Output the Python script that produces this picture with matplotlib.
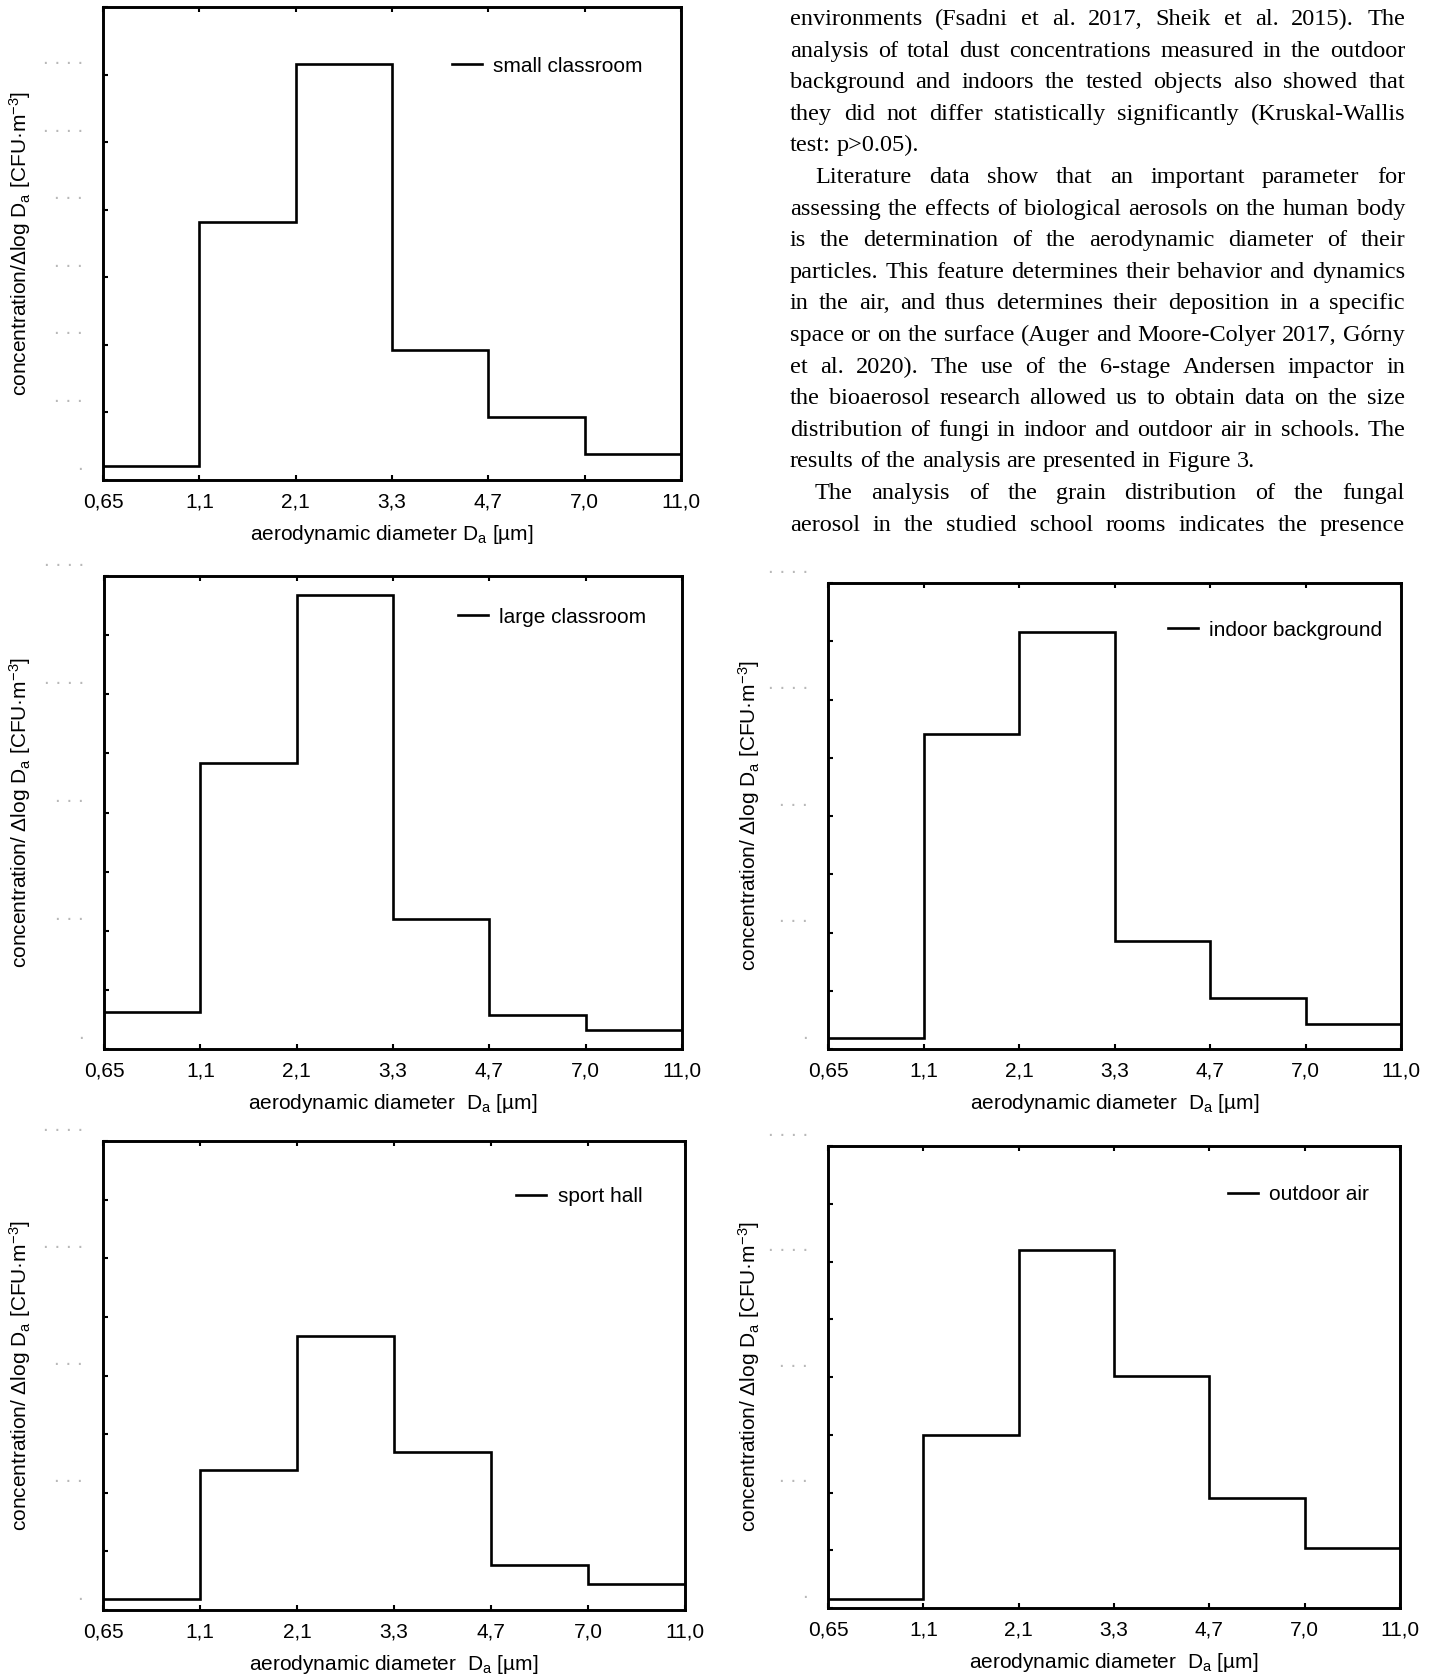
import numpy as np
import matplotlib
matplotlib.use("Agg")
import matplotlib.pyplot as plt

plt.rcParams["font.family"] = ["Liberation Sans", "DejaVu Sans"]
plt.rcParams["mathtext.fontset"] = "custom"
plt.rcParams["mathtext.rm"] = "Liberation Sans"
plt.rcParams["mathtext.it"] = "Liberation Sans:italic"
plt.rcParams["mathtext.bf"] = "Liberation Sans:bold"

# ── data (concentration / dlog Da) ────────────────────────────────────
size_bins = ["0,65", "1,1", "2,1", "3,3", "4,7", "7,0", "11,0"]

small_classroom   = [40, 765, 1231, 385, 186, 78]
large_classroom   = [125, 968, 1536, 440, 115, 64]
indoor_background = [38, 1081, 1432, 371, 175, 86]
sport_hall        = [39, 477, 936, 539, 155, 90]
outdoor_air       = [32, 599, 1240, 803, 381, 208]

yticks_1400 = list(range(0, 1401, 200))
yticks_1600 = list(range(0, 1601, 200))
ylabels_1400 = list(range(0, 1201, 200))
ylabels_1600 = list(range(0, 1601, 400))

# ── page layout ──────────────────────────────────────────────────────
W, H = 1435, 1678
fig = plt.figure(figsize=(W / 100, H / 100), dpi=100)
fig.patch.set_facecolor("white")

FS = 15
YLAB_A = r"concentration/Δlog D$_{\rm a}$ [CFU·m$^{-3}$]"
YLAB_B = r"concentration/ Δlog D$_{\rm a}$ [CFU·m$^{-3}$]"
XLAB_A = r"aerodynamic diameter D$_{\rm a}$ [µm]"
XLAB_B = r"aerodynamic diameter  D$_{\rm a}$ [µm]"

panels = [
    # name, values, (left, top, right, bottom) px, ymax, ticks, labelled,
    # legend anchor, ylabel right edge px, ylabel, xlabel
    ("small classroom", small_classroom, (103, 7, 681, 480), 1400,
     yticks_1400, ylabels_1400, (0.603, 0.875), 33, YLAB_A, XLAB_A),
    ("large classroom", large_classroom, (104, 576, 682, 1049), 1600,
     yticks_1600, ylabels_1600, (0.612, 0.913), 33, YLAB_B, XLAB_B),
    ("indoor background", indoor_background, (828, 583, 1401, 1049), 1600,
     yticks_1600, ylabels_1600, (0.593, 0.899), 762, YLAB_B, XLAB_B),
    ("sport hall", sport_hall, (103, 1141, 685, 1610), 1600,
     yticks_1600, ylabels_1600, (0.710, 0.881), 33, YLAB_B, XLAB_B),
    ("outdoor air", outdoor_air, (828, 1146, 1400, 1608), 1600,
     yticks_1600, ylabels_1600, (0.699, 0.894), 762, YLAB_B, XLAB_B),
]

edges = np.arange(len(size_bins))

for name, vals, (l, t, r, b), ymax, yt, ylab_vals, leg_xy, ylab_x, ylab, xlab in panels:
    ax = fig.add_axes([l / W, 1 - b / H, (r - l) / W, (b - t) / H])
    ax.stairs(vals, edges, baseline=None, color="black", lw=1.9, label=name)
    ax.set_xlim(edges[0], edges[-1])
    ax.set_ylim(0, ymax)

    for s in ax.spines.values():
        s.set_linewidth(2.1)
    ax.set_xticks(edges)
    ax.set_xticklabels(size_bins, fontsize=FS)
    ax.set_yticks(yt)
    ax.set_yticklabels([])
    ax.tick_params(axis="x", direction="in", length=3.5, width=1.5,
                   top=True, pad=9)
    ax.tick_params(axis="y", direction="in", length=3.5, width=1.5)

    # the tick values are not legible in the source: faint dots, one per digit
    for v in ylab_vals:
        ax.annotate(" ".join("." * len(str(v))), xy=(0, v),
                    xycoords=("axes fraction", "data"),
                    xytext=(-14.4, 7.5), textcoords="offset points",
                    ha="right", va="baseline", fontsize=FS,
                    color="#b8b8b8", annotation_clip=False)

    ax.set_xlabel(xlab, fontsize=FS)
    ax.xaxis.set_label_coords(0.5, -43 / (b - t))
    ax.set_ylabel(ylab, fontsize=FS)
    ax.yaxis.set_label_coords((ylab_x - l) / (r - l), 0.5)

    ax.legend(loc="center left", bbox_to_anchor=leg_xy, frameon=False,
              fontsize=FS, handlelength=1.45, handletextpad=0.55,
              borderpad=0, borderaxespad=0)

# ── body text column (justified by hand) ─────────────────────────────
body = [
    ("environments (Fsadni et al. 2017, Sheik et al. 2015). The", False, True),
    ("analysis of total dust concentrations measured in the outdoor", False, True),
    ("background and indoors the tested objects also showed that", False, True),
    ("they did not differ statistically significantly (Kruskal-Wallis", False, True),
    ("test: p>0.05).", False, False),
    ("Literature data show that an important parameter for", True, True),
    ("assessing the effects of biological aerosols on the human body", False, True),
    ("is the determination of the aerodynamic diameter of their", False, True),
    ("particles. This feature determines their behavior and dynamics", False, True),
    ("in the air, and thus determines their deposition in a specific", False, True),
    ("space or on the surface (Auger and Moore-Colyer 2017, Górny", False, True),
    ("et al. 2020). The use of the 6-stage Andersen impactor in", False, True),
    ("the bioaerosol research allowed us to obtain data on the size", False, True),
    ("distribution of fungi in indoor and outdoor air in schools. The", False, True),
    ("results of the analysis are presented in Figure 3.", False, False),
    ("The analysis of the grain distribution of the fungal", True, True),
    ("aerosol in the studied school rooms indicates the presence", False, True),
]

TX0, TX1, INDENT = 790, 1405, 25
BASE0, LEAD = 25, 31.6
BODY_FS = 17.5
renderer = fig.canvas.get_renderer()

for i, (line, indent, justify) in enumerate(body):
    y = 1 - (BASE0 + i * LEAD) / H
    x0 = TX0 + (INDENT if indent else 0)
    words = line.split(" ")
    items = [fig.text(0, y, w, family="Liberation Serif", fontsize=BODY_FS,
                      va="baseline", ha="left") for w in words]
    widths = [it.get_window_extent(renderer).width for it in items]
    if justify and len(words) > 1:
        gap = (TX1 - x0 - sum(widths)) / (len(words) - 1)
    else:
        gap = 0.25 * BODY_FS * 100 / 72
    x = x0
    for it, w in zip(items, widths):
        it.set_x(x / W)
        x += w + gap

fig.savefig("out.png", dpi=100, facecolor="white")
